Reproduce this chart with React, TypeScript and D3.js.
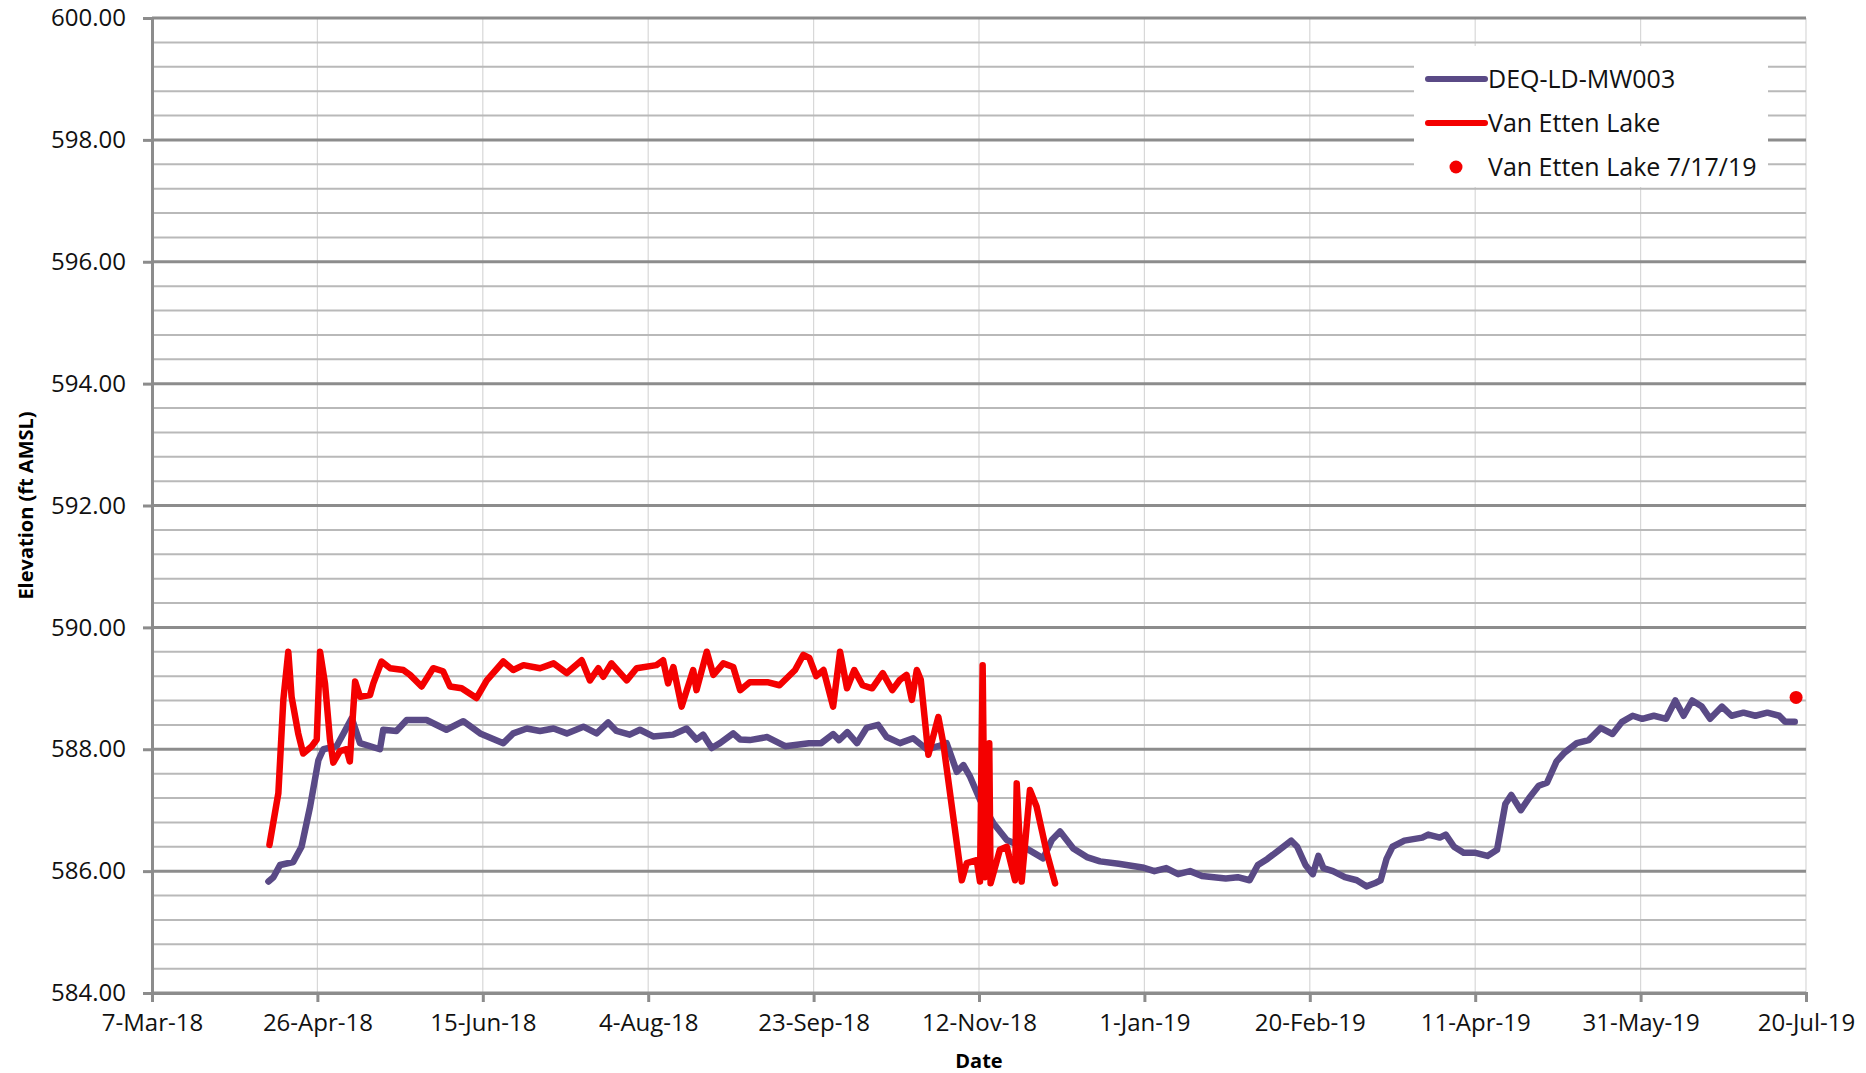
import React, { useEffect, useRef } from "react";
import * as d3 from "d3";

// x values are days after 7-Mar-18 (the left edge of the axis)
const mw003: [number, number][] = [
  [35.2, 585.83], [36.7, 585.9], [38.7, 586.1], [42.7, 586.15], [45.2, 586.4],
  [47.8, 587.06], [50.3, 587.82], [51.8, 588.0], [55.8, 588.05], [60.4, 588.51],
  [62.9, 588.1], [68.9, 588.0], [69.9, 588.32], [73.9, 588.3], [77, 588.48],
  [83, 588.48], [89, 588.32], [94.1, 588.46], [99.2, 588.26], [106.2, 588.1],
  [109.2, 588.26], [113.3, 588.34], [117.3, 588.3], [121.4, 588.34], [125.4, 588.26],
  [130.4, 588.37], [134.4, 588.26], [137.9, 588.44], [140.4, 588.3], [144.4, 588.24],
  [147.5, 588.32], [151.5, 588.21], [157.5, 588.24], [161.6, 588.34], [164.6, 588.16],
  [166.6, 588.24], [169.2, 588.02], [171.7, 588.1], [175.7, 588.26], [177.8, 588.16],
  [180.7, 588.15], [186.0, 588.2], [191.4, 588.05], [198.6, 588.1], [202.3, 588.1],
  [205.9, 588.25], [207.7, 588.15], [210.2, 588.28], [213.1, 588.1], [216.0, 588.35],
  [219.5, 588.4], [222.1, 588.2], [226.1, 588.1], [230.1, 588.18], [234.2, 588.0],
  [237.7, 588.05], [240.2, 588.1], [243.3, 587.63], [245.3, 587.74], [247.3, 587.55],
  [250.3, 587.17], [254.3, 586.79], [258.4, 586.51], [264.4, 586.37], [269.4, 586.21],
  [272.0, 586.51], [274.5, 586.65], [278.5, 586.37], [282.6, 586.23], [286.6, 586.16],
  [292.2, 586.12], [299.4, 586.06], [303.0, 586.0], [306.6, 586.05], [310.2, 585.95],
  [313.8, 586.0], [317.4, 585.92], [321.0, 585.9], [324.6, 585.88], [328.2, 585.9],
  [331.8, 585.85], [334.3, 586.1], [337.2, 586.2], [340.8, 586.35], [344.4, 586.5],
  [346.2, 586.4], [348.7, 586.1], [350.9, 585.95], [352.6, 586.25], [354.1, 586.05],
  [357.0, 586.0], [360.6, 585.9], [364.2, 585.85], [367.1, 585.75], [369.6, 585.8],
  [371.4, 585.85], [373.2, 586.2], [375.0, 586.4], [378.6, 586.5], [384.0, 586.55],
  [385.8, 586.6], [389.3, 586.55], [391.1, 586.6], [393.6, 586.4], [396.5, 586.3],
  [400.1, 586.3], [403.7, 586.25], [406.6, 586.35], [409.1, 587.1], [410.9, 587.25],
  [413.8, 587.0], [416.3, 587.2], [419.2, 587.4], [421.7, 587.45], [424.6, 587.8],
  [427.1, 587.95], [430.7, 588.1], [434.3, 588.15], [437.9, 588.35], [441.5, 588.25],
  [444.4, 588.45], [447.6, 588.55], [450.5, 588.5], [454.0, 588.55], [457.7, 588.5],
  [460.5, 588.8], [463.0, 588.55], [465.6, 588.8], [468.5, 588.7], [471.0, 588.5],
  [474.6, 588.7], [477.5, 588.55], [481.1, 588.6], [484.7, 588.55], [488.3, 588.6],
  [491.9, 588.55], [493.7, 588.45], [496.6, 588.45],
];

const lake: [number, number][] = [
  [35.5, 586.43], [38.2, 587.28], [39.7, 588.81], [41.2, 589.6], [42.2, 588.86],
  [44.2, 588.26], [45.7, 587.93], [48.3, 588.05], [49.8, 588.16], [50.8, 589.6],
  [52.3, 589.08], [53.8, 588.16], [54.8, 587.78], [56.8, 587.97], [58.8, 588.0],
  [59.8, 587.8], [61.4, 589.11], [62.9, 588.86], [65.9, 588.89], [66.9, 589.08],
  [69.4, 589.44], [72.0, 589.33], [76.0, 589.3], [78.0, 589.22], [81.5, 589.03],
  [85.0, 589.33], [88.0, 589.28], [90.1, 589.03], [93.6, 589.0], [98.1, 588.84],
  [101.2, 589.13], [106.2, 589.44], [109.2, 589.3], [112.3, 589.38], [117.3, 589.33],
  [121.4, 589.41], [125.4, 589.25], [129.9, 589.46], [132.4, 589.13], [134.9, 589.33],
  [136.4, 589.19], [138.9, 589.41], [143.5, 589.13], [146.5, 589.33], [152.5, 589.38],
  [154.5, 589.46], [156.0, 589.08], [157.6, 589.35], [160.1, 588.7], [163.6, 589.3],
  [164.6, 588.97], [167.7, 589.6], [169.7, 589.22], [172.7, 589.41], [175.7, 589.35],
  [177.8, 588.97], [180.7, 589.1], [186.0, 589.1], [189.7, 589.05], [194.4, 589.3],
  [196.9, 589.55], [198.7, 589.5], [200.8, 589.2], [203.0, 589.3], [205.9, 588.7],
  [208.0, 589.6], [210.1, 589.0], [212.3, 589.3], [214.8, 589.05], [217.7, 589.0],
  [220.9, 589.25], [223.8, 588.97], [226.1, 589.14], [228.1, 589.22], [229.7, 588.81],
  [231.2, 589.3], [232.4, 589.14], [234.7, 587.91], [237.7, 588.53], [239.2, 588.1],
  [244.8, 585.85], [246.3, 586.13], [249.3, 586.18], [250.3, 585.83], [251.1, 589.38],
  [251.8, 585.9], [253.1, 588.1], [253.5, 585.8], [256.3, 586.35], [258.4, 586.4],
  [260.9, 585.85], [261.4, 587.44], [262.9, 585.83], [265.4, 587.33], [267.4, 587.06],
  [270.5, 586.3], [273.0, 585.8],
];

const lakeSurvey: [number, number][] = [[497, 588.85]];

const xTickLabels = [
  "7-Mar-18", "26-Apr-18", "15-Jun-18", "4-Aug-18", "23-Sep-18", "12-Nov-18",
  "1-Jan-19", "20-Feb-19", "11-Apr-19", "31-May-19", "20-Jul-19",
];
const yMajor = [584, 586, 588, 590, 592, 594, 596, 598, 600];
const legendLabels = ["DEQ-LD-MW003", "Van Etten Lake", "Van Etten Lake 7/17/19"];

const PURPLE = "#5a4a86";
const RED = "#f40000";
const FONT = "'Open Sans', sans-serif";

const Chart: React.FC = () => {
  const svgRef = useRef<SVGSVGElement | null>(null);

  useEffect(() => {
    if (!svgRef.current) return;
    const width = 1866;
    const height = 1073;
    const margin = { top: 18, right: 60, bottom: 80, left: 152 };

    const svg = d3.select(svgRef.current);
    svg.selectAll("*").remove();
    svg.attr("width", width).attr("height", height);

    const parse = d3.timeParse("%d-%b-%y");
    const tickDates = xTickLabels.map((s) => parse(s)!);
    const start = tickDates[0];
    const toDate = (d: number) => new Date(start.getTime() + d * 86400000);

    const x = d3
      .scaleTime()
      .domain([start, tickDates[tickDates.length - 1]])
      .range([margin.left, width - margin.right]);
    const y = d3
      .scaleLinear()
      .domain([584, 600])
      .range([height - margin.bottom, margin.top]);

    // vertical gridlines
    svg
      .append("g")
      .selectAll("line")
      .data(tickDates.slice(1))
      .enter()
      .append("line")
      .attr("x1", (d) => x(d))
      .attr("x2", (d) => x(d))
      .attr("y1", y(600))
      .attr("y2", y(584))
      .attr("stroke", "#d8d8d8")
      .attr("stroke-width", 1.2);

    // minor horizontal gridlines
    const minor = d3.range(584, 600.01, 0.4).filter((v) => Math.abs(v / 2 - Math.round(v / 2)) > 0.01);
    svg
      .append("g")
      .selectAll("line")
      .data(minor)
      .enter()
      .append("line")
      .attr("x1", margin.left)
      .attr("x2", width - margin.right)
      .attr("y1", (d) => y(d))
      .attr("y2", (d) => y(d))
      .attr("stroke", "#b9b9b9")
      .attr("stroke-width", 2);

    svg
      .append("g")
      .selectAll("line")
      .data(yMajor)
      .enter()
      .append("line")
      .attr("x1", margin.left)
      .attr("x2", width - margin.right)
      .attr("y1", (d) => y(d))
      .attr("y2", (d) => y(d))
      .attr("stroke", "#8c8c8c")
      .attr("stroke-width", 3);

    // y axis
    const yAxis = d3
      .axisLeft(y)
      .tickValues(yMajor)
      .tickFormat(d3.format(".2f"))
      .tickSize(9)
      .tickPadding(17);
    const gy = svg.append("g").attr("transform", `translate(${margin.left},0)`).call(yAxis);
    gy.select(".domain").attr("stroke", "#8c8c8c").attr("stroke-width", 3);
    gy.selectAll(".tick line").attr("stroke", "#8c8c8c").attr("stroke-width", 3);
    gy.selectAll("text").attr("font-family", FONT).attr("font-size", 24).attr("fill", "#111");

    // x axis
    const xAxis = d3
      .axisBottom(x)
      .tickValues(tickDates)
      .tickFormat((_, i) => xTickLabels[i])
      .tickSize(9)
      .tickPadding(12);
    const gx = svg
      .append("g")
      .attr("transform", `translate(0,${height - margin.bottom})`)
      .call(xAxis);
    gx.select(".domain").attr("stroke", "#8c8c8c").attr("stroke-width", 3);
    gx.selectAll(".tick line").attr("stroke", "#8c8c8c").attr("stroke-width", 3);
    gx.selectAll("text").attr("font-family", FONT).attr("font-size", 24).attr("fill", "#111");

    // series
    const line = d3
      .line<[number, number]>()
      .x((d) => x(toDate(d[0])))
      .y((d) => y(d[1]));

    svg
      .append("path")
      .datum(mw003)
      .attr("d", line)
      .attr("fill", "none")
      .attr("stroke", PURPLE)
      .attr("stroke-width", 6.5)
      .attr("stroke-linejoin", "round")
      .attr("stroke-linecap", "round");

    svg
      .append("path")
      .datum(lake)
      .attr("d", line)
      .attr("fill", "none")
      .attr("stroke", RED)
      .attr("stroke-width", 6.5)
      .attr("stroke-linejoin", "round")
      .attr("stroke-linecap", "round");

    svg
      .selectAll(".survey")
      .data(lakeSurvey)
      .enter()
      .append("circle")
      .attr("cx", (d) => x(toDate(d[0])))
      .attr("cy", (d) => y(d[1]))
      .attr("r", 6.5)
      .attr("fill", RED);

    // axis titles
    svg
      .append("text")
      .attr("x", (margin.left + width - margin.right) / 2)
      .attr("y", 1068)
      .attr("text-anchor", "middle")
      .attr("font-family", FONT)
      .attr("font-weight", "bold")
      .attr("font-size", 20)
      .text("Date");
    svg
      .append("text")
      .attr("transform", `translate(33,${(y(584) + y(600)) / 2}) rotate(-90)`)
      .attr("text-anchor", "middle")
      .attr("font-family", FONT)
      .attr("font-weight", "bold")
      .attr("font-size", 20)
      .text("Elevation (ft AMSL)");

    // legend
    const lg = svg.append("g").attr("transform", "translate(1414,46)");
    lg.append("rect").attr("width", 354).attr("height", 141).attr("fill", "white");
    legendLabels.forEach((label, i) => {
      const cy = 33 + i * 44;
      if (i < 2) {
        lg.append("line")
          .attr("x1", 14)
          .attr("x2", 71)
          .attr("y1", cy)
          .attr("y2", cy)
          .attr("stroke", i === 0 ? PURPLE : RED)
          .attr("stroke-width", 6)
          .attr("stroke-linecap", "round");
      } else {
        lg.append("circle").attr("cx", 42).attr("cy", cy).attr("r", 6.5).attr("fill", RED);
      }
      lg.append("text")
        .attr("x", 74)
        .attr("y", cy)
        .attr("dy", "0.35em")
        .attr("font-family", FONT)
        .attr("font-size", 25)
        .attr("fill", "#111")
        .text(label);
    });
  }, []);

  return <svg ref={svgRef} style={{ position: "absolute", left: 0, top: 0, background: "white" }} />;
};

export default function App() {
  return <Chart />;
}
